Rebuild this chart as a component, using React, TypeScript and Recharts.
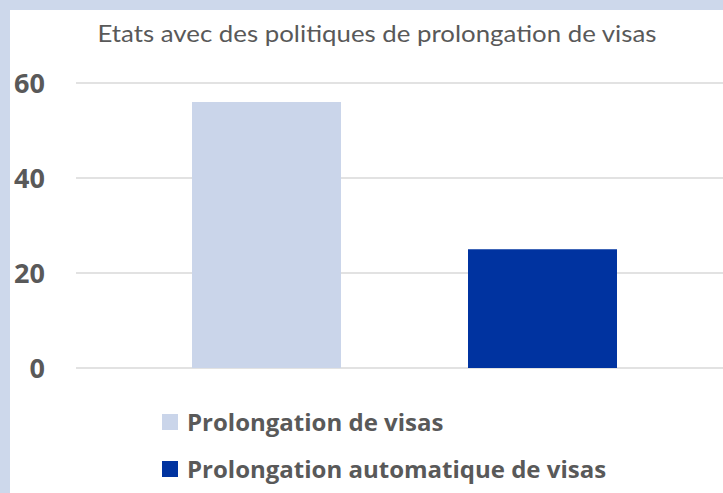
import React from 'react';
import { BarChart, Bar, YAxis, XAxis, CartesianGrid, Legend } from 'recharts';

const title = 'Etats avec des politiques de prolongation de visas';
const categories = ['Etats'];
const seriesNames = ['Prolongation de visas', 'Prolongation automatique de visas'];
const extensionValues = [56];
const automaticValues = [25];
const yTicks = [0, 20, 40, 60];
const colors = ['#CAD5EA', '#0033A0'];

const data = categories.map((c, i) => ({
  name: c,
  ext: extensionValues[i],
  auto: automaticValues[i],
}));

const textColor = '#595959';

const renderLegend = (props: any) => {
  const payload = [...(props.payload || [])].sort(
    (a: any, b: any) => seriesNames.indexOf(a.value) - seriesNames.indexOf(b.value)
  );
  return (
    <div>
      {payload.map((p: any, i: number) => (
        <div key={i} style={{ display: 'flex', alignItems: 'center', height: 47 }}>
          <span style={{ width: 16, height: 16, background: p.color, display: 'inline-block', marginRight: 9, flexShrink: 0 }} />
          <span style={{ fontFamily: '"Open Sans", sans-serif', fontWeight: 700, fontSize: 24, color: textColor, whiteSpace: 'nowrap' }}>{p.value}</span>
        </div>
      ))}
    </div>
  );
};

export default function App() {
  return (
    <div style={{ position: 'absolute', left: 0, top: 0, width: 723, height: 493, overflow: 'hidden', background: '#CDD8EB' }}>
      <div style={{ position: 'absolute', left: 10, top: 10, width: 713, height: 483, background: '#FFFFFF' }} />
      <svg style={{ position: 'absolute', left: 0, top: 0 }} width={723} height={60}>
        <text x={377} y={42} textAnchor="middle" fill={textColor} fontFamily="Lato, sans-serif" fontSize={24} textLength={559} lengthAdjust="spacingAndGlyphs">{title}</text>
      </svg>
      <div style={{ position: 'absolute', left: 0, top: 0 }}>
        <BarChart width={733} height={493} data={data} margin={{ top: 83, right: 0, bottom: 125, left: 0 }} barGap={127} barSize={149}>
          <CartesianGrid vertical={false} stroke="#D9D9D9" strokeWidth={1.5} />
          <XAxis dataKey="name" hide />
          <YAxis
            width={76}
            domain={[0, 60]}
            ticks={yTicks}
            axisLine={false}
            tickLine={false}
            tickSize={0}
            tickMargin={31}
            tick={{ fill: textColor, fontFamily: '"Open Sans", sans-serif', fontWeight: 700, fontSize: 27 }}
          />
          <Legend
            layout="vertical"
            align="center"
            verticalAlign="middle"
            itemSorter={null as any}
            content={renderLegend}
            wrapperStyle={{ top: 398, left: 162, width: 540 }}
          />
          <Bar dataKey="ext" name={seriesNames[0]} fill={colors[0]} isAnimationActive={false} />
          <Bar dataKey="auto" name={seriesNames[1]} fill={colors[1]} isAnimationActive={false} />
        </BarChart>
      </div>
    </div>
  );
}
